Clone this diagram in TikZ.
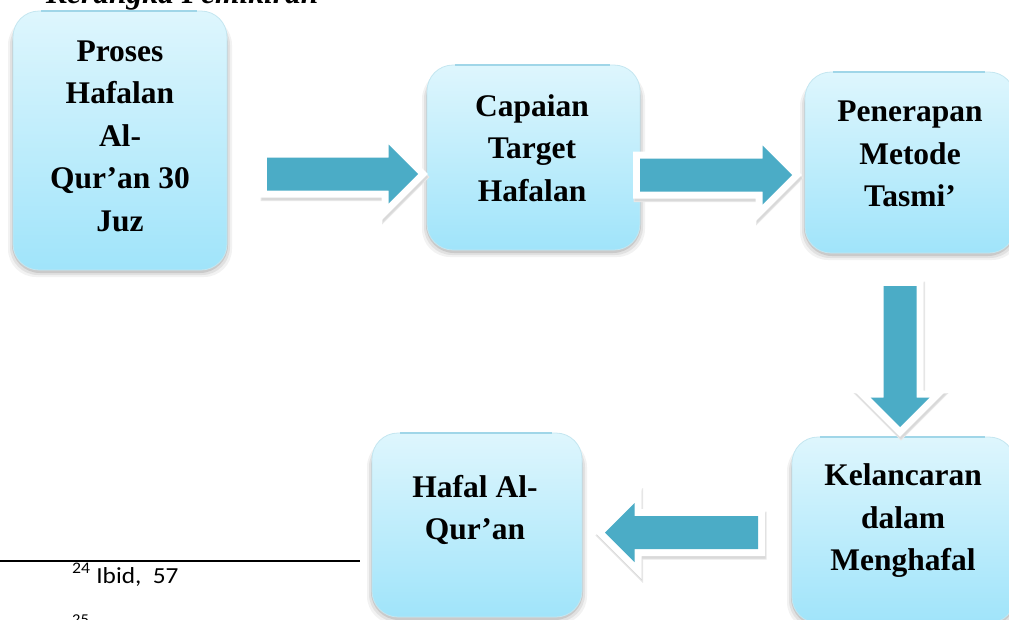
\documentclass[tikz,border=0pt]{standalone}
\usepackage{fontspec}
\setmainfont{Liberation Serif}
\newfontfamily\fnfont[FakeStretch=1.1]{Carlito}
\definecolor{boxtop}{RGB}{222,246,253}
\definecolor{boxbot}{RGB}{160,228,250}
\definecolor{boxedge}{RGB}{196,230,240}
\definecolor{topline}{RGB}{160,214,232}
\definecolor{arrowteal}{RGB}{75,172,198}
\tikzset{
  flowbox/.style={shading=axis, top color=boxtop, bottom color=boxbot, draw=boxedge,
    line width=0.8pt, rounded corners=26pt, inner sep=0pt},
  boxtext/.style={align=center, font=\fontsize{31.5}{42.5}\selectfont\bfseries, inner sep=0pt},
  pics/barrow/.style={code={
    \filldraw[white, line width=14pt, line join=miter]
      (-#1,-16.5) -- (-29.5,-16.5) -- (-29.5,-29.5) -- (0,0) -- (-29.5,29.5)
      -- (-29.5,16.5) -- (-#1,16.5) -- cycle;
    \fill[arrowteal]
      (-#1,-16.5) -- (-29.5,-16.5) -- (-29.5,-29.5) -- (0,0) -- (-29.5,29.5)
      -- (-29.5,16.5) -- (-#1,16.5) -- cycle;}},
  pics/barrowsh/.style={code={
    \filldraw[black!9, line width=15pt, line join=miter]
      (-#1,-16.5) -- (-29.5,-16.5) -- (-29.5,-29.5) -- (0,0) -- (-29.5,29.5)
      -- (-29.5,16.5) -- (-#1,16.5) -- cycle;
    \filldraw[black!15, line width=13pt, line join=miter]
      (-#1,-16.5) -- (-29.5,-16.5) -- (-29.5,-29.5) -- (0,0) -- (-29.5,29.5)
      -- (-29.5,16.5) -- (-#1,16.5) -- cycle;}}
}
\newcommand\flowbox[5]{% name, cx, cy, w, h
  \foreach \e/\o in {5/0.05,3/0.07,1/0.10}{
    \fill[black, opacity=\o, rounded corners=28pt]
      ({#2-#4/2-\e},{#3-#5/2+6}) rectangle ({#2+#4/2+\e},{#3+#5/2+2+\e});
  }
  \node[flowbox, minimum width=#4pt, minimum height=#5pt] (#1) at (#2,#3) {};
  \draw[topline, line width=2pt] ([xshift=28pt]#1.north west) -- ([xshift=-30pt]#1.north east);
}
\begin{document}
\begin{tikzpicture}[x=1pt,y=-1pt]
\useasboundingbox (0,0) rectangle (1009,619);
\clip (0,0) rectangle (1009,619);

% title (cut off at top)
\node[anchor=base west, inner sep=0pt, font=\fontsize{31.5}{36}\selectfont\bfseries\itshape] (title) at (46,3) {Kerangka Pemikiran};

% boxes
\flowbox{b1}{120}{140.5}{214}{259}
\flowbox{b2}{533.5}{157.5}{213}{185}
\flowbox{b3}{910}{162.5}{210}{181}
\flowbox{b4}{477}{525}{210}{184}
\flowbox{b5}{903.5}{530}{223}{186}

\node[boxtext] (t1) at (120,136) {Proses\\Hafalan\\Al-\\Qur’an 30\\Juz};
\node[boxtext] (t2) at (532,148) {Capaian\\Target\\Hafalan};
\node[boxtext] (t3) at (910,154) {Penerapan\\Metode\\Tasmi’};
\node[boxtext] (t4) at (475,510) {Hafal Al-\\Qur’an};
\node[boxtext] (t5) at (903,521) {Kelancaran\\dalam\\Menghafal};

% block arrows (shadows first)
\pic[rotate=0]   at (419,177)   {barrowsh=151};
\pic[rotate=0]   at (793,178)   {barrowsh=152};
\pic[rotate=-90] at (901,430)   {barrowsh=141};
\pic[rotate=180] at (606,535.5) {barrowsh=153};

\pic[rotate=0]   at (418,174)   {barrow=151};
\pic[rotate=0]   at (792,175)   {barrow=152};
\pic[rotate=-90] at (900,427)   {barrow=141};
\pic[rotate=180] at (605,532.5) {barrow=153};

% footnote
\coordinate (fl) at (0,561);
\coordinate (fr) at (360,561);
\draw[line width=1.4pt] (fl) -- (fr);
\node[anchor=base west, inner sep=0pt, font=\fnfont\fontsize{23}{27}\selectfont] (fn24) at (72,583) {\textsuperscript{24} Ibid,\ \ 57};
\node[anchor=base west, inner sep=0pt, font=\fnfont\fontsize{15}{17}\selectfont] (fn25) at (72,624) {25};
\end{tikzpicture}
\end{document}
